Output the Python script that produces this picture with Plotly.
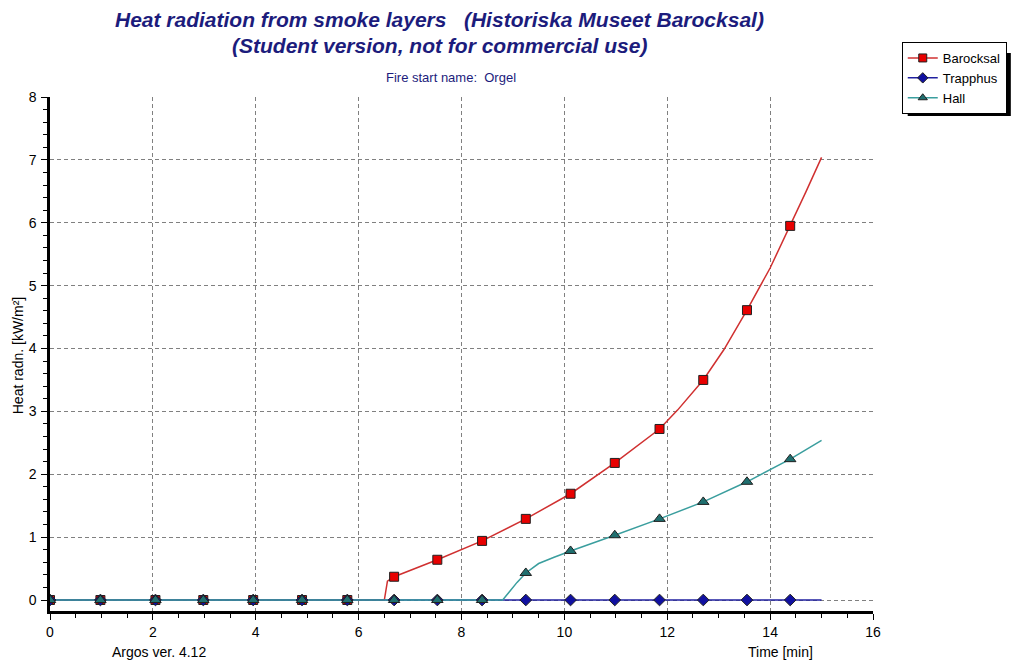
"""
Heat radiation from smoke layers — Argos style line chart in Plotly.
"""
import plotly.graph_objects as go

W, H = 1019, 661
PLOT_X0, PLOT_X1 = 50, 880     # plot area in px
PLOT_Y0, PLOT_Y1 = 97, 611

# ── Data ──────────────────────────────────────────────────────────────────────
# marker sample times [min]
T_MARK = [0, 0.98, 2.05, 2.98, 3.95, 4.9, 5.78, 6.69, 7.53, 8.40,
          9.25, 10.12, 10.98, 11.85, 12.70, 13.55, 14.39]
BAROCKSAL_MARK = [0, 0, 0, 0, 0, 0, 0, 0.37, 0.64, 0.94,
                  1.29, 1.69, 2.18, 2.72, 3.50, 4.61, 5.95]
TRAPPHUS_MARK = [0] * 17
HALL_MARK = [0, 0, 0, 0, 0, 0, 0, 0, 0, 0,
             0.43, 0.78, 1.03, 1.29, 1.56, 1.88, 2.24]

# continuous curves [min], [kW/m²]
BAROCKSAL_T = [0, 6.5, 6.56, 6.69, 7.53, 8.40, 9.25, 10.12, 10.98, 11.85,
               12.2, 12.70, 13.1, 13.55, 14.0, 14.39, 14.7, 15.0]
BAROCKSAL_Q = [0, 0, 0.30, 0.37, 0.64, 0.94, 1.29, 1.69, 2.18, 2.72,
               3.02, 3.50, 3.98, 4.61, 5.28, 5.95, 6.50, 7.04]
TRAPPHUS_T = [0, 15.0]
TRAPPHUS_Q = [0, 0]
HALL_T = [0, 8.8, 8.92, 9.08, 9.25, 9.5, 9.8, 10.12, 10.98, 11.85,
          12.70, 13.55, 14.39, 15.0]
HALL_Q = [0, 0, 0.12, 0.28, 0.43, 0.58, 0.68, 0.78, 1.03, 1.29,
          1.56, 1.88, 2.24, 2.54]

SERIES = [
    # name, curve t, curve q, marker q, line colour, marker fill, symbol, size
    ("Barocksal", BAROCKSAL_T, BAROCKSAL_Q, BAROCKSAL_MARK, "#d03030", "#e80000", "square", 9),
    ("Trapphus", TRAPPHUS_T, TRAPPHUS_Q, TRAPPHUS_MARK, "#2020a0", "#1010a0", "diamond", 9),
    ("Hall", HALL_T, HALL_Q, HALL_MARK, "#3a9e9e", "#1f6f6f", "triangle-up", 10),
]

NAVY = "#1c1c7c"
FONT = "Liberation Sans, Arial, sans-serif"


def px_x(x):
    return (x - PLOT_X0) / (PLOT_X1 - PLOT_X0)


def px_y(y):
    return (PLOT_Y1 - y) / (PLOT_Y1 - PLOT_Y0)


fig = go.Figure()

# curves first, markers on top
for name, t, q, mq, lc, mc, sym, sz in SERIES:
    fig.add_trace(go.Scatter(
        x=t, y=q, mode="lines", line=dict(color=lc, width=1.5),
        showlegend=False, hoverinfo="skip",
    ))
for name, t, q, mq, lc, mc, sym, sz in SERIES:
    fig.add_trace(go.Scatter(
        x=T_MARK, y=mq, mode="markers", name=name,
        marker=dict(symbol=sym, size=sz, color=mc, line=dict(color="#202020", width=1)),
        showlegend=False,
    ))
for name, t, q, mq, lc, mc, sym, sz in SERIES:
    fig.add_trace(go.Scatter(
        x=[None], y=[None], mode="lines+markers", name=name,
        line=dict(color=lc, width=1.5),
        marker=dict(symbol=sym, size=8, color=mc, line=dict(color="#202020", width=1)),
    ))

axis_common = dict(
    showgrid=True, gridcolor="#808080", griddash="4px,3px", gridwidth=1,
    showline=True, linecolor="black", linewidth=2.5,
    ticks="outside", ticklen=6, tickcolor="black", tickwidth=1,
    tickfont=dict(family=FONT, size=14, color="black"),
    zeroline=False, fixedrange=True,
)

fig.update_xaxes(range=[0, 16], dtick=2, tick0=0, ticklabelstandoff=0,
                 minor=dict(dtick=0.5, ticks="outside", ticklen=4, tickcolor="black", showgrid=False),
                 **axis_common)
fig.update_yaxes(range=[-(PLOT_Y1 - 600) / 62.875, 8], dtick=1, tick0=0, ticklabelstandoff=2,
                 minor=dict(dtick=0.2, ticks="outside", ticklen=4, tickcolor="black", showgrid=False),
                 **axis_common)

annotations = [
    dict(text="<b><i>Heat radiation from smoke layers   (Historiska Museet Barocksal)</i></b>",
         x=px_x(443), y=px_y(19), font=dict(size=21, color=NAVY, family=FONT)),
    dict(text="<b><i>(Student version, not for commercial use)</i></b>",
         x=px_x(443), y=px_y(46), font=dict(size=21, color=NAVY, family=FONT)),
    dict(text="Fire start name:  Orgel",
         x=px_x(454), y=px_y(78), font=dict(size=13, color=NAVY, family=FONT)),
    dict(text="Heat radn. [kW/m²]", textangle=-90,
         x=px_x(18), y=px_y(356), font=dict(size=14, color="black", family=FONT)),
    dict(text="Argos ver. 4.12",
         x=px_x(160), y=px_y(652), font=dict(size=14, color="black", family=FONT)),
    dict(text="Time [min]",
         x=px_x(787), y=px_y(652), font=dict(size=14, color="black", family=FONT)),
]
for a in annotations:
    a.update(xref="paper", yref="paper", showarrow=False, xanchor="center", yanchor="middle")

# legend drop shadow (legend box itself is drawn on top of shapes)
fig.add_shape(type="rect", xref="paper", yref="paper",
              x0=px_x(915), x1=px_x(1019), y0=px_y(53), y1=px_y(116),
              fillcolor="black", line=dict(width=0), layer="above")

fig.update_layout(
    width=W, height=H,
    margin=dict(l=PLOT_X0, r=W - PLOT_X1, t=PLOT_Y0, b=H - PLOT_Y1),
    paper_bgcolor="white", plot_bgcolor="white",
    font=dict(family=FONT, size=14, color="black"),
    annotations=annotations,
    legend=dict(
        x=px_x(909), y=px_y(42), xanchor="left", yanchor="top",
        bgcolor="white", bordercolor="black", borderwidth=1,
        font=dict(family=FONT, size=13, color="black"),
        tracegroupgap=0, itemwidth=30,
    ),
)

# drop the default 8px page margin so the figure fills the window exactly
fig.write_html("out.html", config={"displayModeBar": False},
               post_script="document.body.style.margin='0';document.body.style.overflow='hidden';")
